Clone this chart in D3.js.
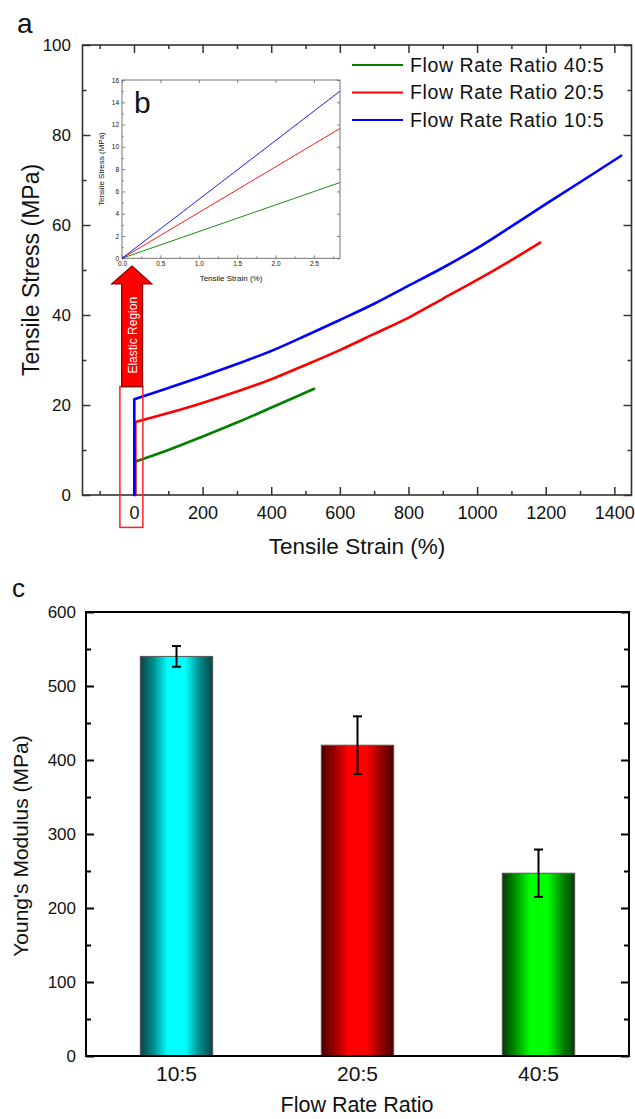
<!DOCTYPE html>
<html><head><meta charset="utf-8">
<script src="https://cdn.jsdelivr.net/npm/d3@7"></script>
<style>
body{margin:0;background:#fff}
svg{display:block}
text{font-family:"Liberation Sans",Arial,sans-serif;fill:#111}
</style>
</head><body>
<svg id="c" width="635" height="1119"></svg>
<script>
// ---------------- DATA ----------------
const seriesNames = ["Flow Rate Ratio 40:5", "Flow Rate Ratio 20:5", "Flow Rate Ratio 10:5"];
const seriesColors = ["#008000", "#ff0000", "#0000ff"];
// stress-strain curves, [strain %, stress MPa]
const curve40 = [[3,0],[3,7.4],[100,10.0],[197,12.9],[300,16.1],[406,19.6],[525,23.6]];
const curve20 = [[4,0],[4,16.2],[100,18.2],[197,20.4],[300,23.0],[406,25.9],[500,28.9],[600,32.2],[700,35.8],[805,39.6],[900,43.6],[1000,47.8],[1100,52.2],[1184,56.1]];
const curve10 = [[1,0],[1,21.3],[100,23.8],[197,26.3],[300,29.1],[406,32.2],[500,35.4],[600,38.9],[700,42.5],[795,46.3],[900,50.5],[999,54.8],[1100,59.7],[1193,64.3],[1300,69.5],[1420,75.4]];
const xTicksA = [0,200,400,600,800,1000,1200,1400];
const xMinorA = [-100,100,300,500,700,900,1100,1300];
const yTicksA = [0,20,40,60,80,100];
const yMinorA = [10,30,50,70,90];
// inset (elastic region)
const inset40 = [[0,0],[2.84,6.8]];
const inset20 = [[0,0],[2.84,11.65]];
const inset10 = [[0,0],[2.84,15.0]];
const insetXTicks = [0,0.5,1.0,1.5,2.0,2.5];
const insetXMinor = [0.25,0.75,1.25,1.75,2.25,2.75];
const insetYTicks = [0,2,4,6,8,10,12,14,16];
const insetYMinor = [1,3,5,7,9,11,13,15];
// elastic region annotation (data units of panel a)
const regionBox = {x0:-41, x1:26, y0:-7.2, y1:24.1};
const arrowShaft = {x0:-36, x1:25, y0:24.1, y1:46.9};
const arrowHead = {x0:-65, x1:52, base:46.9, tip:50.9};
// bar chart
const categories = ["10:5", "20:5", "40:5"];
const modulus = [540, 420, 247];
const modulusErr = [14, 39, 32];
const barDark = ["#0a4444", "#4a0000", "#003a00"];
const barMid = ["#008c8c", "#9a0000", "#009000"];
const barBright = ["#00ffff", "#ff0000", "#00ff00"];
const yTicksC = [0,100,200,300,400,500,600];
const yMinorC = [50,150,250,350,450,550];

// ---------------- DRAW ----------------
const svg = d3.select("#c");
const FONT = '"Liberation Sans",Arial,sans-serif';

function styleAxis(g, color, width, fs) {
  g.select(".domain").remove();
  g.attr("font-family", FONT).attr("font-size", fs);
  g.selectAll(".tick line").attr("stroke", color).attr("stroke-width", width);
  g.selectAll(".tick text").attr("fill", "#111");
}

// ===== Panel a =====
const xA = d3.scaleLinear().domain([-150,1450]).range([82.5,631.5]);
const yA = d3.scaleLinear().domain([0,100]).range([495,45]);
const gA = svg.append("g");
const frameCol = "#333";

gA.append("g").attr("transform", `translate(0,${yA(0)})`)
  .call(d3.axisBottom(xA).tickValues(xTicksA).tickSize(-8).tickPadding(11).tickFormat(d3.format("d")))
  .call(g => styleAxis(g, frameCol, 1.5, 18));
gA.append("g").attr("transform", `translate(0,${yA(0)})`)
  .call(d3.axisBottom(xA).tickValues(xMinorA).tickSize(-4).tickFormat(""))
  .call(g => styleAxis(g, frameCol, 1.5, 18));
gA.append("g").attr("transform", `translate(0,${yA(100)})`)
  .call(d3.axisTop(xA).tickValues(xTicksA).tickSize(-8).tickFormat(""))
  .call(g => styleAxis(g, frameCol, 1.5, 18));
gA.append("g").attr("transform", `translate(0,${yA(100)})`)
  .call(d3.axisTop(xA).tickValues(xMinorA).tickSize(-4).tickFormat(""))
  .call(g => styleAxis(g, frameCol, 1.5, 18));
gA.append("g").attr("transform", `translate(${xA.range()[0]},0)`)
  .call(d3.axisLeft(yA).tickValues(yTicksA).tickSize(-8).tickPadding(11.5))
  .call(g => styleAxis(g, frameCol, 1.5, 17));
gA.append("g").attr("transform", `translate(${xA.range()[0]},0)`)
  .call(d3.axisLeft(yA).tickValues(yMinorA).tickSize(-4).tickFormat(""))
  .call(g => styleAxis(g, frameCol, 1.5, 17));
gA.append("g").attr("transform", `translate(${xA.range()[1]},0)`)
  .call(d3.axisRight(yA).tickValues(yTicksA).tickSize(-8).tickFormat(""))
  .call(g => styleAxis(g, frameCol, 1.5, 17));
gA.append("g").attr("transform", `translate(${xA.range()[1]},0)`)
  .call(d3.axisRight(yA).tickValues(yMinorA).tickSize(-4).tickFormat(""))
  .call(g => styleAxis(g, frameCol, 1.5, 17));

gA.append("rect")
  .attr("x", xA.range()[0]).attr("y", yA(100))
  .attr("width", xA.range()[1]-xA.range()[0]).attr("height", yA(0)-yA(100))
  .attr("fill", "none").attr("stroke", frameCol).attr("stroke-width", 1.6);

// curves: straight initial rise, then smooth plastic curve
const lineStraight = d3.line().x(d => xA(d[0])).y(d => yA(d[1]));
const lineSmooth = d3.line().x(d => xA(d[0])).y(d => yA(d[1])).curve(d3.curveMonotoneX);
[curve40, curve20, curve10].forEach((c, i) => {
  const d = lineStraight(c.slice(0, 2)) + "L" + lineSmooth(c.slice(1)).slice(1);
  gA.append("path").attr("d", d)
    .attr("fill", "none").attr("stroke", seriesColors[i]).attr("stroke-width", 2.6)
    .attr("stroke-linejoin", "round").attr("stroke-linecap", "round");
});

// legend
const legX0 = 352, legX1 = 403, legY0 = 65, legDy = 27.5;
seriesNames.forEach((n, i) => {
  const y = legY0 + i*legDy;
  gA.append("line").attr("x1", legX0).attr("x2", legX1).attr("y1", y).attr("y2", y)
    .attr("stroke", seriesColors[i]).attr("stroke-width", 2.2);
  gA.append("text").attr("x", legX1 + 7).attr("y", y + 6.5)
    .attr("font-size", 19.5).attr("letter-spacing", 0.6).text(n);
});

// inset
const insL = 122, insR = 340, insT = 80, insB = 258.3;
const xI = d3.scaleLinear().domain([0,2.84]).range([insL, insR]);
const yI = d3.scaleLinear().domain([0,16]).range([insB, insT]);
const gI = svg.append("g");
gI.append("rect").attr("x", insL).attr("y", insT).attr("width", insR-insL).attr("height", insB-insT)
  .attr("fill", "#fff");
const insCol = "#666";
gI.append("g").attr("transform", `translate(0,${insB})`)
  .call(d3.axisBottom(xI).tickValues(insetXTicks).tickSize(-3).tickPadding(3).tickFormat(d3.format(".1f")))
  .call(g => styleAxis(g, insCol, 0.8, 6.5)).call(g => g.selectAll("text").attr("fill", "#555"));
gI.append("g").attr("transform", `translate(0,${insB})`)
  .call(d3.axisBottom(xI).tickValues(insetXMinor).tickSize(-1.8).tickFormat(""))
  .call(g => styleAxis(g, insCol, 0.8, 6.5));
gI.append("g").attr("transform", `translate(${insL},0)`)
  .call(d3.axisLeft(yI).tickValues(insetYTicks).tickSize(-3).tickPadding(3))
  .call(g => styleAxis(g, insCol, 0.8, 6.5)).call(g => g.selectAll("text").attr("fill", "#555"));
gI.append("g").attr("transform", `translate(${insL},0)`)
  .call(d3.axisLeft(yI).tickValues(insetYMinor).tickSize(-1.8).tickFormat(""))
  .call(g => styleAxis(g, insCol, 0.8, 6.5));
gI.append("g").attr("transform", `translate(${insR},0)`)
  .call(d3.axisRight(yI).tickValues(insetYTicks).tickSize(-3).tickFormat(""))
  .call(g => styleAxis(g, insCol, 0.8, 6.5));
gI.append("g").attr("transform", `translate(0,${insT})`)
  .call(d3.axisTop(xI).tickValues(insetXTicks).tickSize(-3).tickFormat(""))
  .call(g => styleAxis(g, insCol, 0.8, 6.5));
gI.append("rect").attr("x", insL).attr("y", insT).attr("width", insR-insL).attr("height", insB-insT)
  .attr("fill", "none").attr("stroke", insCol).attr("stroke-width", 0.9);
const lineI = d3.line().x(d => xI(d[0])).y(d => yI(d[1]));
[inset40, inset20, inset10].forEach((c, i) => {
  gI.append("path").datum(c).attr("d", lineI).attr("fill", "none")
    .attr("stroke", seriesColors[i]).attr("stroke-width", 0.9);
});
gI.append("text").attr("x", (insL+insR)/2).attr("y", 281).attr("text-anchor", "middle")
  .attr("font-size", 8).attr("fill", "#444").text("Tensile Strain (%)");
gI.append("text").attr("transform", `translate(104,${(insT+insB)/2}) rotate(-90)`)
  .attr("text-anchor", "middle").attr("font-size", 8).attr("fill", "#444").text("Tensile Stress (MPa)");
gI.append("text").attr("x", 134).attr("y", 113).attr("font-size", 30).attr("fill", "#000").text("b");

// elastic region box + arrow
gA.append("rect")
  .attr("x", xA(regionBox.x0)).attr("y", yA(regionBox.y1))
  .attr("width", xA(regionBox.x1)-xA(regionBox.x0)).attr("height", yA(regionBox.y0)-yA(regionBox.y1))
  .attr("fill", "none").attr("stroke", "#ff2020").attr("stroke-width", 1.5);
const arrowPts = [
  [arrowShaft.x0, arrowShaft.y0], [arrowShaft.x0, arrowHead.base], [arrowHead.x0, arrowHead.base],
  [(arrowShaft.x0+arrowShaft.x1)/2, arrowHead.tip],
  [arrowHead.x1, arrowHead.base], [arrowShaft.x1, arrowHead.base], [arrowShaft.x1, arrowShaft.y0]
];
svg.append("path").attr("d", d3.line().x(d => xA(d[0])).y(d => yA(d[1]))(arrowPts) + "Z")
  .attr("fill", "#ff0000").attr("stroke", "#8a0000").attr("stroke-width", 1.2);
svg.append("text")
  .attr("transform", `translate(${xA((arrowShaft.x0+arrowShaft.x1)/2)+4.5},${yA((arrowShaft.y0+arrowHead.base)/2)}) rotate(-90)`)
  .attr("text-anchor", "middle").attr("font-family", '"Open Sans",sans-serif')
  .attr("font-size", 12).style("fill", "#fff").text("Elastic Region");

// titles panel a
svg.append("text").attr("x", 17).attr("y", 33).attr("font-size", 28).text("a");
svg.append("text").attr("transform", `translate(39,270) rotate(-90)`).attr("text-anchor", "middle")
  .attr("font-size", 23).text("Tensile Stress (MPa)");
svg.append("text").attr("x", 357).attr("y", 554).attr("text-anchor", "middle")
  .attr("font-size", 22.5).text("Tensile Strain (%)");

// ===== Panel c =====
const xC = d3.scaleBand().domain(categories).range([86,629]).paddingInner(0.6).paddingOuter(0.3);
const yC = d3.scaleLinear().domain([0,600]).range([1056,612]);
const defs = svg.append("defs");
categories.forEach((c, i) => {
  const gr = defs.append("linearGradient").attr("id", "bar" + i).attr("x1", 0).attr("x2", 1).attr("y1", 0).attr("y2", 0);
  [[0, barDark[i]], [0.18, barMid[i]], [0.38, barBright[i]], [0.5, barBright[i]], [0.62, barBright[i]], [0.82, barMid[i]], [1, barDark[i]]]
    .forEach(s => gr.append("stop").attr("offset", s[0]).attr("stop-color", s[1]));
});
const gC = svg.append("g");
gC.selectAll("rect.bar").data(modulus).join("rect").attr("class", "bar")
  .attr("x", (d, i) => xC(categories[i])).attr("width", xC.bandwidth())
  .attr("y", d => yC(d)).attr("height", d => yC(0) - yC(d))
  .attr("fill", (d, i) => `url(#bar${i})`).attr("stroke", "#555").attr("stroke-width", 1);

modulus.forEach((v, i) => {
  const cx = xC(categories[i]) + xC.bandwidth()/2;
  const e = modulusErr[i];
  gC.append("line").attr("x1", cx).attr("x2", cx).attr("y1", yC(v+e)).attr("y2", yC(v-e))
    .attr("stroke", "#000").attr("stroke-width", 2);
  [v+e, v-e].forEach(t => gC.append("line").attr("x1", cx-4.5).attr("x2", cx+4.5)
    .attr("y1", yC(t)).attr("y2", yC(t)).attr("stroke", "#000").attr("stroke-width", 2));
});

gC.append("g").attr("transform", `translate(86,0)`)
  .call(d3.axisLeft(yC).tickValues(yTicksC).tickSize(-8).tickPadding(10))
  .call(g => styleAxis(g, "#000", 2, 17));
gC.append("g").attr("transform", `translate(86,0)`)
  .call(d3.axisLeft(yC).tickValues(yMinorC).tickSize(-5).tickFormat(""))
  .call(g => styleAxis(g, "#000", 2, 17));
gC.append("g").attr("transform", `translate(629,0)`)
  .call(d3.axisRight(yC).tickValues(yTicksC).tickSize(-8).tickFormat(""))
  .call(g => styleAxis(g, "#000", 2, 17));
gC.append("g").attr("transform", `translate(629,0)`)
  .call(d3.axisRight(yC).tickValues(yMinorC).tickSize(-5).tickFormat(""))
  .call(g => styleAxis(g, "#000", 2, 17));
gC.append("g").attr("transform", `translate(0,${yC(0)})`)
  .call(d3.axisBottom(xC).tickSize(0).tickPadding(10))
  .call(g => styleAxis(g, "#000", 0, 21));
gC.append("rect").attr("x", 86).attr("y", yC(600)).attr("width", 629-86).attr("height", yC(0)-yC(600))
  .attr("fill", "none").attr("stroke", "#000").attr("stroke-width", 2);

svg.append("text").attr("x", 12).attr("y", 597).attr("font-size", 26).text("c");
svg.append("text").attr("transform", `translate(28,846) rotate(-90)`).attr("text-anchor", "middle")
  .attr("font-size", 21).text("Young's Modulus (MPa)");
svg.append("text").attr("x", 357).attr("y", 1112).attr("text-anchor", "middle")
  .attr("font-size", 21.5).text("Flow Rate Ratio");
</script>
</body></html>
